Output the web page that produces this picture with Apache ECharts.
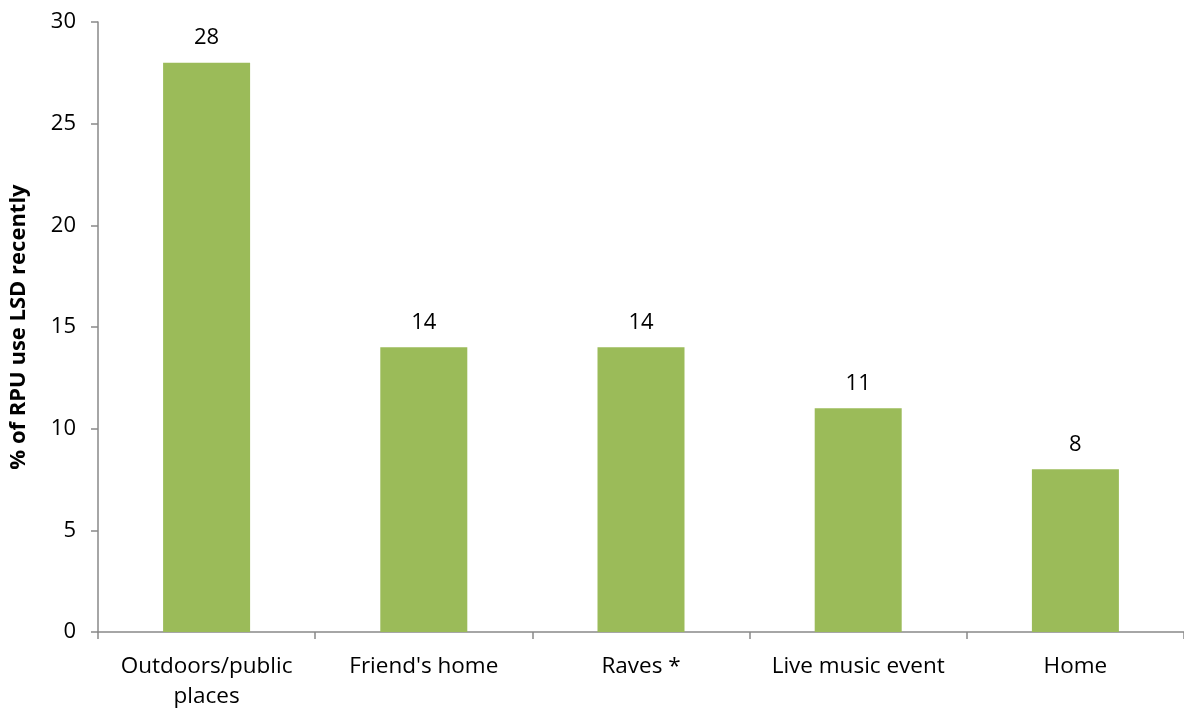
<!DOCTYPE html>
<html>
<head>
<meta charset="utf-8">
<script src="https://cdn.jsdelivr.net/npm/echarts@6/dist/echarts.min.js"></script>
<style>
  html, body { margin: 0; padding: 0; background: #fff; }
  #chart { width: 1184px; height: 713px; }
</style>
</head>
<body>
<div id="chart"></div>
<script>
// Places where recent LSD use happened
const categories = ['Outdoors/public\nplaces', "Friend's home", 'Raves *', 'Live music event', 'Home'];
const shares = [28, 14, 14, 11, 8];
const yTicks = { min: 0, max: 30, interval: 5 };
const axisTitle = '% of RPU use LSD recently';

const FONT = '"Open Sans", Lato, sans-serif';
const AXIS_GREY = '#898989';

const chart = echarts.init(document.getElementById('chart'));
chart.setOption({
  animation: false,
  grid: { left: 95, top: 22, width: 1093, height: 610 },
  xAxis: {
    type: 'category',
    data: categories,
    axisLine: { lineStyle: { color: AXIS_GREY, width: 1.5 } },
    axisTick: { show: true, alignWithLabel: false, length: 7, lineStyle: { color: AXIS_GREY, width: 1.5 } },
    axisLabel: { color: '#000', fontFamily: FONT, fontSize: 22.5, margin: 20, lineHeight: 30, interval: 0 }
  },
  yAxis: {
    type: 'value',
    min: yTicks.min, max: yTicks.max, interval: yTicks.interval,
    name: axisTitle,
    nameLocation: 'middle',
    nameGap: 68,
    nameRotate: 90,
    nameTextStyle: { color: '#000', fontFamily: FONT, fontSize: 22, fontWeight: 'bold' },
    splitLine: { show: false },
    axisLine: { show: true, lineStyle: { color: AXIS_GREY, width: 1.5 } },
    axisTick: { show: true, length: 7, lineStyle: { color: AXIS_GREY, width: 1.5 } },
    axisLabel: { color: '#000', fontFamily: FONT, fontSize: 22, margin: 22 }
  },
  series: [{
    type: 'bar',
    data: shares,
    barWidth: 87,
    itemStyle: { color: '#9BBB59' },
    label: {
      show: true, position: 'top', distance: 14,
      color: '#000', fontFamily: FONT, fontSize: 22
    }
  }]
});
</script>
</body>
</html>
